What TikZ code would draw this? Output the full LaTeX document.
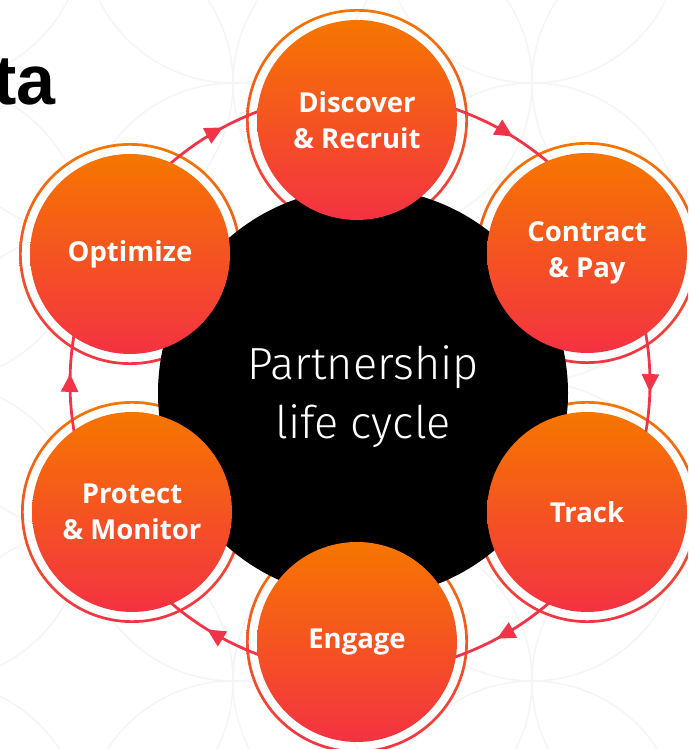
\documentclass[tikz,border=0pt]{standalone}
\usepackage{fontspec}
\setmainfont{Open Sans}
\newfontfamily\lightfont{Fira Sans Light}
\newfontfamily\titlefont{Liberation Sans}
\usetikzlibrary{arrows.meta,decorations.markings}
\definecolor{ringtop}{RGB}{245,118,0}
\definecolor{ringbot}{RGB}{243,52,68}
\definecolor{filltop}{RGB}{246,118,0}
\definecolor{fillbot}{RGB}{244,50,66}
\definecolor{arcred}{RGB}{242,52,72}
\definecolor{bgline}{RGB}{245,245,245}
\begin{document}
\begin{tikzpicture}[x=1pt,y=1pt,
  sat/.style={circle, minimum size=200pt, inner sep=0pt, top color=filltop, bottom color=fillbot,
    text=white, font=\bfseries\fontsize{27.5}{36}\selectfont, align=center},
  ringshade/.style={top color=ringtop, bottom color=ringbot, even odd rule},
  cycarrow/.style={draw=arcred, line width=2.8pt, postaction={decorate},
    decoration={markings, mark=at position 0.53 with {\arrow[color=arcred]{Triangle[length=18pt,width=17pt]}}}},
  bgcircle/.style={draw=bgline, line width=1.6pt},
  coretext/.style={text=white, font=\lightfont\fontsize{45}{59}\selectfont, align=center, inner sep=0pt}
]
\useasboundingbox (0,0) rectangle (688,749);
\begin{scope}
\clip (0,0) rectangle (688,749);
% faint background pattern
\foreach \i in {-2,...,4}{
  \foreach \j in {-1,...,5}{
    \pgfmathtruncatemacro\pq{mod(\i+\j+20,2)}
    \ifnum\pq=1
      \draw[bgcircle] (233+149.5*\i, 749-83-149.5*\j) circle[radius=149.5];
    \fi
  }
}
% title fragment
\node[font=\titlefont\bfseries\fontsize{70}{80}\selectfont, anchor=base east, inner sep=0pt] (title) at (56,644) {ta};
% centres
\coordinate (C) at (360,366);
\coordinate (p1) at (357,629);
\coordinate (p2) at (587,496);
\coordinate (p3) at (587,237);
\coordinate (p4) at (357,107);
\coordinate (p5) at (132,237);
\coordinate (p6) at (130,495);
% rings
\foreach \p in {p1,p2,p3,p4,p5,p6}{
  \shade[ringshade] (\p) circle[radius=111] circle[radius=108.3];
}
% cycle arrows
\foreach \a in {90,30,-30,-90,-150,150}{
  \draw[cycarrow] (C) ++(\a:290) arc[start angle=\a, end angle=\a-60, radius=290];
}
% core
\node[circle, fill=black, minimum size=410pt, inner sep=0pt] (core) at (363,356) {};
\node[coretext] (corelabel) at (363,352) {Partnership\\life cycle};
% satellites
\node[sat] (s1) at (p1) {Discover\\\& Recruit};
\node[sat] (s2) at (p2) {Contract\\\& Pay};
\node[sat] (s3) at (p3) {Track};
\node[sat] (s4) at (p4) {Engage};
\node[sat] (s5) at (p5) {Protect\\\& Monitor};
\node[sat] (s6) at (p6) {Optimize};
\end{scope}
\end{tikzpicture}
\end{document}
